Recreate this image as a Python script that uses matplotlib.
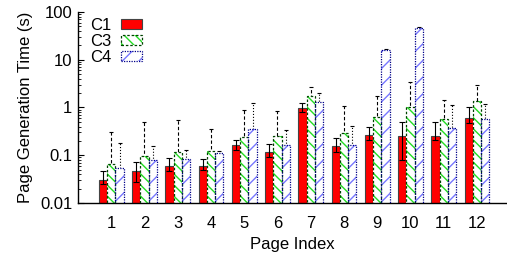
import numpy as np
import matplotlib
matplotlib.use("Agg")
import matplotlib.pyplot as plt
from matplotlib.patches import Patch

plt.rcParams['font.family'] = ['Liberation Sans', 'DejaVu Sans']
plt.rcParams['hatch.linewidth'] = 1.0

# page index and per-config mean times (s), with upper/lower error ends
pages = [1, 2, 3, 4, 5, 6, 7, 8, 9, 10, 11, 12]
c1 = [0.031, 0.047, 0.059, 0.060, 0.164, 0.116, 0.97, 0.157, 0.267, 0.254, 0.257, 0.60]
c1_hi = [0.047, 0.071, 0.089, 0.085, 0.206, 0.17, 1.23, 0.227, 0.39, 0.49, 0.49, 1.01]
c1_lo = [0.0247, 0.027, 0.046, 0.048, 0.129, 0.093, 0.82, 0.119, 0.21, 0.080, 0.21, 0.48]
c3 = [0.067, 0.095, 0.119, 0.125, 0.245, 0.25, 1.78, 0.298, 0.63, 1.01, 0.585, 1.37]
c3_hi = [0.30, 0.50, 0.557, 0.35, 0.89, 0.86, 2.66, 1.05, 1.78, 3.49, 1.44, 2.96]
c3_lo = [0.04, 0.05, 0.07, 0.08, 0.15, 0.15, 1.2, 0.19, 0.4, 0.5, 0.35, 0.8]
c4 = [0.053, 0.079, 0.084, 0.113, 0.35, 0.164, 1.33, 0.164, 16.1, 46.0, 0.38, 0.58]
c4_hi = [0.178, 0.157, 0.127, 0.12, 1.26, 0.34, 2.0, 0.41, 16.8, 48.0, 1.13, 1.19]
c4_lo = [0.03, 0.05, 0.06, 0.08, 0.2, 0.1, 0.9, 0.1, 15.0, 44.0, 0.25, 0.4]
labels = ['C1', 'C3', 'C4']

x = np.array(pages, dtype=float)
w = 0.25
fs = 12

fig = plt.figure(figsize=(5.07, 2.59), dpi=100)
ax = fig.add_axes([0.1538, 0.2162, 0.846, 0.7375])

def yerr(v, lo, hi):
    v = np.array(v); return [v - np.array(lo), np.array(hi) - v]

# C3 and C4 error bars sit behind white-filled bars
eb3 = ax.errorbar(x, c3, yerr=yerr(c3, c3_lo, c3_hi), fmt='none', ecolor='black',
                  elinewidth=0.8, capsize=1.5, capthick=0.8, zorder=1)
eb3[2][0].set_linestyle((0, (3, 2)))
eb4 = ax.errorbar(x + w, c4, yerr=yerr(c4, c4_lo, c4_hi), fmt='none', ecolor='black',
                  elinewidth=0.8, capsize=1.5, capthick=0.8, zorder=1)
eb4[2][0].set_linestyle(':')

ax.bar(x - w, c1, w, color='#ff0000', edgecolor='#444444', linewidth=0.8, zorder=2)
ax.bar(x, c3, w, color='white', edgecolor='#22dd22', linewidth=0, hatch='\\\\\\', zorder=2)
ax.bar(x, c3, w, fill=False, edgecolor='#004400', linewidth=0.9, linestyle=(0, (2, 1.5)), zorder=3)
ax.bar(x + w, c4, w, color='white', edgecolor='#7777ff', linewidth=0, hatch='//', zorder=2)
ax.bar(x + w, c4, w, fill=False, edgecolor='#000088', linewidth=0.9, linestyle=(0, (1, 1)), zorder=3)

ax.errorbar(x - w, c1, yerr=yerr(c1, c1_lo, c1_hi), fmt='none', ecolor='black',
            elinewidth=0.8, capsize=2, capthick=0.8, zorder=4)

ax.set_yscale('log')
ax.set_ylim(0.01, 100)
ax.set_xlim(0, 12.9)
ax.set_xticks(pages)
ax.set_xticklabels([str(p) for p in pages], fontsize=fs)
ax.set_yticks([0.01, 0.1, 1, 10, 100])
ax.set_yticklabels(['0.01', '0.1', '1', '10', '100'], fontsize=fs)
ax.tick_params(axis='x', length=0, pad=9)
ax.tick_params(axis='y', which='major', direction='in', length=4, width=0.8, pad=4)
ax.tick_params(axis='y', which='minor', direction='in', length=2, width=0.6)
for s in ['top', 'right']:
    ax.spines[s].set_visible(False)
ax.spines['left'].set_linewidth(1.0)
ax.spines['bottom'].set_linewidth(1.0)

ax.set_xlabel('Page Index', fontsize=fs, labelpad=5)
ax.set_ylabel('Page Generation Time (s)', fontsize=fs, labelpad=5)

h1 = Patch(facecolor='#ff0000', edgecolor='#444444', linewidth=0.8)
h3 = (Patch(facecolor='white', edgecolor='#22dd22', linewidth=0, hatch='\\\\\\'),
      Patch(fill=False, edgecolor='#004400', linewidth=0.9, linestyle=(0, (2, 1.5))))
h4 = (Patch(facecolor='white', edgecolor='#7777ff', linewidth=0, hatch='//'),
      Patch(fill=False, edgecolor='#000088', linewidth=0.9, linestyle=(0, (1, 1))))
ax.legend([h1, h3, h4], labels, loc='upper left', bbox_to_anchor=(0.0, 1.03),
          frameon=False, markerfirst=False, fontsize=fs, handlelength=1.25,
          handleheight=0.55, labelspacing=0.05, borderaxespad=0.3, handletextpad=0.6)

fig.savefig('out.png', dpi=100)
